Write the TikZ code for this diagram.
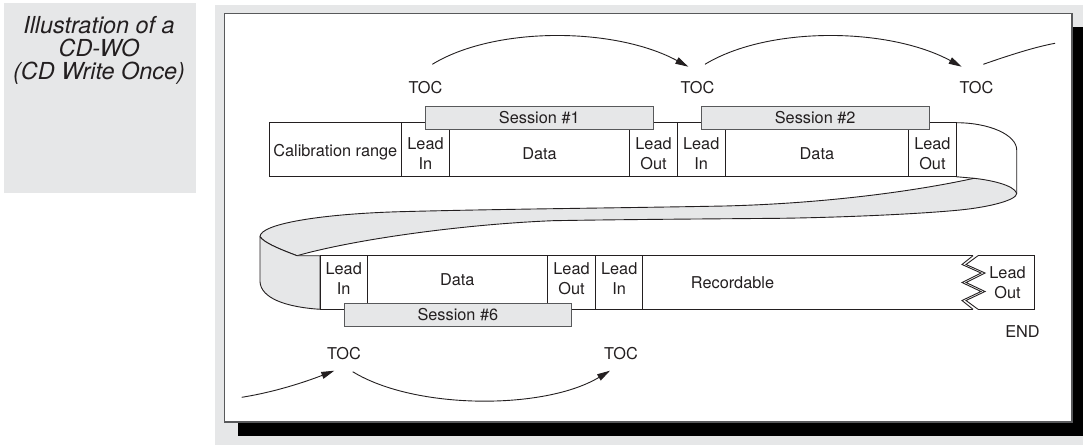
\documentclass[tikz,border=0pt]{standalone}
\usepackage{fontspec}
\setmainfont{TeX Gyre Heros}
\usetikzlibrary{arrows.meta}
\definecolor{panel}{HTML}{E6E7E8}
\definecolor{ink}{HTML}{231F20}
\definecolor{framec}{HTML}{58595B}
\begin{document}
\begin{tikzpicture}[x=1pt,y=-1pt,
 ln/.style={draw=ink, line width=0.9pt},
 cell/.style={draw=ink, line width=0.9pt, anchor=north west, minimum height=54pt, inner sep=0pt, outer sep=0pt},
 cellb/.style={cell, minimum height=53.6pt},
 hollow/.style={anchor=north west, minimum height=53.6pt, inner sep=0pt, outer sep=0pt},
 txt/.style={font=\fontsize{16.3}{20}\selectfont, text=ink, align=center, inner sep=0pt},
 sess/.style={draw=framec, fill=panel, line width=0.9pt, anchor=north west, minimum height=23.3pt, inner sep=0pt, outer sep=0pt, font=\fontsize{16.3}{20}\selectfont, text=ink},
 arr/.style={draw=ink, line width=0.9pt, -{Triangle[length=13pt,width=7pt]}},
 band/.style={draw=ink, fill=panel, line width=0.9pt, line join=round},
]
\useasboundingbox (0,0) rectangle (1083,446);
% background panels
\fill[panel] (4,3) rectangle (196,193);
\fill[panel] (215,5) rectangle (1083,445);
\fill[black] (238,27) rectangle (1083,436);
\draw[draw=framec, fill=white, line width=1.1pt] (224.3,13.3) rectangle (1072,422);
% caption
\node[font=\fontsize{23.4}{23.3}\selectfont\itshape, text=ink, align=center, inner sep=0pt] (cap) at (99,50.5) {Illustration of a\\CD-WO\\(CD Write Once)};
% twisted band (back side)
\path[band] (260,236.7) .. controls (260,224) and (320,214) .. (400,211.7)
 .. controls (500,209) and (620,208) .. (725,206)
 .. controls (840,203) and (930,188) .. (974,178.3)
 .. controls (990,180) and (1014,185) .. (1016.7,193.3)
 .. controls (1017,200) and (990,207) .. (960,210)
 .. controls (920,214) and (840,217.5) .. (780,218.3)
 .. controls (700,219) and (620,219.5) .. (553,220.7)
 .. controls (470,224) and (360,238) .. (297,255.7)
 .. controls (282,250) and (264,243) .. cycle;
\path[band] (260,236.7) -- (260,281.7) .. controls (261,298) and (285,307) .. (320,309.3)
 -- (320,255.7) -- (297,255.7) .. controls (282,250) and (264,243) .. cycle;
% row 1 cells
\node[cell, minimum width=132.7pt] (calib) at (269,122.7) {};
\node[cell, minimum width=47.6pt] (li1) at (401.7,122.7) {};
\node[cell, minimum width=180.4pt] (d1) at (449.3,122.7) {};
\node[cell, minimum width=47.6pt] (lo1) at (629.7,122.7) {};
\node[cell, minimum width=47.7pt] (li2) at (677.3,122.7) {};
\node[cell, minimum width=183.7pt] (d2) at (725,122.7) {};
\node[cell, minimum width=47.3pt] (lo2) at (908.7,122.7) {};
% right curl (front side)
\draw[ln] (lo2.north east) .. controls (989.5,122.7) and (1016.7,134.9) .. (1016.7,150) -- (1016.7,193.3);
\draw[ln] (lo2.south east) -- (974,178.3);
% row 2 cells
\node[cellb, minimum width=47.3pt] (li3) at (320,255.7) {};
\node[cellb, minimum width=180pt] (d3) at (367.3,255.7) {};
\node[cellb, minimum width=48.4pt] (lo3) at (547.3,255.7) {};
\node[cellb, minimum width=47pt] (li4) at (595.7,255.7) {};
\node[hollow, minimum width=330.3pt] (rec) at (642.7,255.7) {};
\node[hollow, minimum width=56.3pt] (lo4) at (978,255.7) {};
\draw[ln] (rec.north west) -- (rec.north east) (rec.south west) -- (rec.south east);
\draw[ln] (lo4.north west) -- (lo4.north east) -- (lo4.south east) -- (lo4.south west);
\draw[ln, line join=miter] (rec.north east) -- (962,264.5) -- (981,273) -- (962,282.5) -- (981,291.5) -- (962,300.5) -- (rec.south east);
\draw[ln, line join=miter] (lo4.north west) -- (966,264.5) -- (985,273) -- (966,282.5) -- (985,291.5) -- (966,300.5) -- (lo4.south west);
% sessions
\node[sess, minimum width=228pt] (s1) at (425.3,106) {Session \#1};
\node[sess, minimum width=228.3pt] (s2) at (701,106) {Session \#2};
\node[sess, minimum width=227.7pt] (s6) at (344,303.3) {Session \#6};
% cell texts
\node[txt] (tcal) at (335.3,152) {Calibration range};
\node[txt] (tli1) at (425.5,154) {Lead\\In};
\node[txt] (td1) at (539.5,154) {Data};
\node[txt] (tlo1) at (653.5,154) {Lead\\Out};
\node[txt] (tli2) at (701.2,154) {Lead\\In};
\node[txt] (td2) at (816.9,154) {Data};
\node[txt] (tlo2) at (932.4,154) {Lead\\Out};
\node[txt] (tli3) at (343.7,279) {Lead\\In};
\node[txt] (td3) at (457.3,280) {Data};
\node[txt] (tlo3) at (571.5,279) {Lead\\Out};
\node[txt] (tli4) at (619.2,279) {Lead\\In};
\node[txt] (trec) at (732.5,283) {Recordable};
\node[txt] (tlo4) at (1007.5,282.3) {Lead\\Out};
\node[txt] (tend) at (1022.5,331.7) {END};
% TOC labels
\node[txt] (toc1) at (425.5,87.3) {TOC};
\node[txt] (toc2) at (697.5,87.3) {TOC};
\node[txt] (toc3) at (976.5,87.3) {TOC};
\node[txt] (toc6) at (344,353.3) {TOC};
\node[txt] (toc7) at (621,353.3) {TOC};
% arrow end points
\coordinate (a1s) at (432.3,64.3);
\coordinate (a1e) at (688.3,66.7);
\coordinate (a2s) at (705,64.3);
\coordinate (a2e) at (961.7,66.7);
\coordinate (a3s) at (983.3,64.3);
\coordinate (a3e) at (1055,43.3);
\coordinate (a4s) at (241.7,397.3);
\coordinate (a4e) at (334.3,370.7);
\coordinate (a5s) at (352.7,371.7);
\coordinate (a5e) at (610,370.7);
\draw[arr] (a1s) .. controls (495,26) and (615,27) .. (a1e);
\draw[arr] (a2s) .. controls (768,26) and (888,27) .. (a2e);
\draw[ln] (a3s) .. controls (1010,55) and (1035,47) .. (a3e);
\draw[arr] (a4s) .. controls (275,392) and (305,382) .. (a4e);
\draw[arr] (a5s) .. controls (415,410) and (545,410) .. (a5e);
\end{tikzpicture}
\end{document}
